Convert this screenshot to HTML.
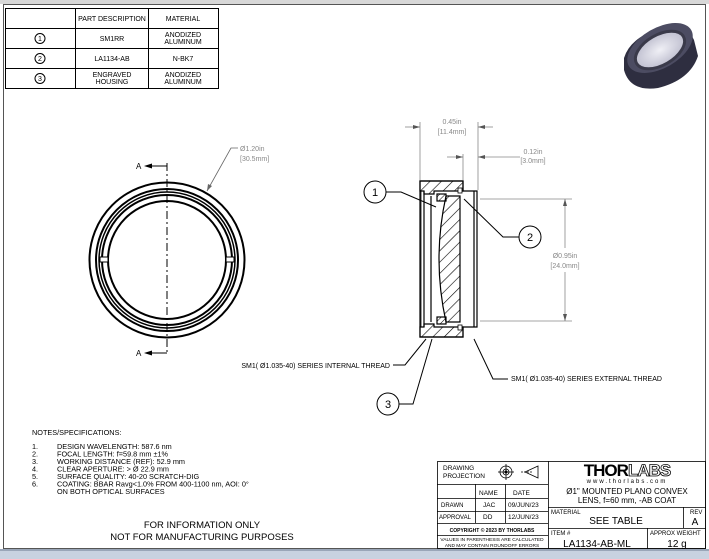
<!DOCTYPE html>
<html><head><meta charset="utf-8"><style>
html,body{margin:0;padding:0;background:#fff;}
svg{display:block;font-family:"Liberation Sans",sans-serif;}
</style></head><body>
<svg width="709" height="559" viewBox="0 0 709 559" xmlns="http://www.w3.org/2000/svg">
<defs>
<pattern id="h" width="8" height="8" patternUnits="userSpaceOnUse" patternTransform="rotate(45)"><line x1="0" y1="0" x2="0" y2="8" stroke="#000" stroke-width="1.2"/></pattern>
<pattern id="h2" width="4" height="4" patternUnits="userSpaceOnUse" patternTransform="rotate(45)"><line x1="0" y1="0" x2="0" y2="4" stroke="#000" stroke-width="1"/></pattern>
<radialGradient id="ph" cx="50%" cy="50%" r="50%"><stop offset="0" stop-color="#f0f0f6"/><stop offset="1" stop-color="#c0c0d0"/></radialGradient>
</defs>
<rect width="709" height="559" fill="#fff"/>
<rect x="0" y="0" width="709" height="4" fill="#d8d8d8"/>
<rect x="0" y="549" width="709" height="10" fill="#c8d2e0"/>
<rect x="0" y="549" width="709" height="2" fill="#9aa6b8"/>
<rect x="3.5" y="4.5" width="702" height="544" fill="none" stroke="#555" stroke-width="1"/>

<!-- parts table -->
<g stroke="#000" stroke-width="1" fill="none">
<rect x="5.5" y="8.5" width="213" height="80"/>
<line x1="75.5" y1="8" x2="75.5" y2="89"/><line x1="148.5" y1="8" x2="148.5" y2="89"/>
<line x1="5" y1="28.5" x2="219" y2="28.5"/><line x1="5" y1="48.5" x2="219" y2="48.5"/><line x1="5" y1="68.5" x2="219" y2="68.5"/>
<circle cx="40" cy="38.5" r="5"/><circle cx="40" cy="58.5" r="5"/><circle cx="40" cy="78.5" r="5"/>
</g>
<g font-size="7" fill="#000" text-anchor="middle">
<text x="112" y="21">PART DESCRIPTION</text><text x="183" y="21">MATERIAL</text>
<text x="40" y="41">1</text><text x="40" y="61">2</text><text x="40" y="81">3</text>
<text x="112" y="41">SM1RR</text><text x="183" y="37">ANODIZED</text><text x="183" y="44">ALUMINUM</text>
<text x="112" y="61">LA1134-AB</text><text x="183" y="61">N-BK7</text>
<text x="112" y="77">ENGRAVED</text><text x="112" y="84">HOUSING</text><text x="183" y="77">ANODIZED</text><text x="183" y="84">ALUMINUM</text>
</g>

<!-- photo -->
<g>
<path d="M624,70 Q630,92 658,88 Q690,80 698,56 L694,40 Q686,22 660,28 Q630,38 624,58 Z" fill="#2e2e40"/>
<ellipse cx="660" cy="48" rx="36" ry="20" transform="rotate(-30 660 48)" fill="#4c4c62"/>
<ellipse cx="660" cy="50" rx="27" ry="15" transform="rotate(-30 660 50)" fill="url(#ph)" stroke="#3a3a4a" stroke-width="3"/>
</g>

<!-- front view -->
<g fill="none" stroke="#000">
<circle cx="167" cy="260" r="77.5" stroke-width="2"/>
<circle cx="167" cy="260" r="71" stroke-width="2"/>
<circle cx="167" cy="260" r="68" stroke-width="1.5"/>
<circle cx="167" cy="260" r="65" stroke-width="2"/>
<circle cx="167" cy="260" r="59" stroke-width="2"/>
<rect x="100" y="257" width="8" height="5" fill="#fff" stroke-width="1"/>
<rect x="226" y="257" width="8" height="5" fill="#fff" stroke-width="1"/>
<line x1="167" y1="163" x2="167" y2="355" stroke-width="1" stroke-dasharray="8,3,2,3"/>
<polyline points="167,166 148,166" stroke-width="1"/>
<polyline points="167,353 148,353" stroke-width="1"/>
<polyline points="207,191 231,148 238,148" stroke="#666" stroke-width="0.8"/>
</g>
<polygon points="144,166 152,163.5 152,168.5" fill="#000"/>
<polygon points="144,353 152,350.5 152,355.5" fill="#000"/>
<polygon points="207,191 208,184 212,186" fill="#666"/>
<g font-size="8" fill="#000"><text x="136" y="169">A</text><text x="136" y="356">A</text></g>
<g font-size="7" fill="#888"><text x="240" y="151">Ø1.20in</text><text x="240" y="161">[30.5mm]</text></g>

<!-- section view -->
<g stroke="#000" stroke-width="1.2">
<path d="M420,181 H463 V191 H477 V327 H463 V337 H420 Z" fill="#fff"/>
<path d="M420,181 H463 V191 H434 V194 H424 V191 H420 Z" fill="url(#h)"/>
<path d="M420,337 H463 V327 H434 V324 H424 V327 H420 Z" fill="url(#h)"/>
<line x1="424" y1="191" x2="424" y2="327"/>
<line x1="421" y1="191" x2="421" y2="327" stroke-width="0.8"/>
<line x1="431" y1="196" x2="431" y2="322"/>
<path d="M446,196 H460 V322 H446 Q432,259 446,196 Z" fill="url(#h)"/>
<rect x="437" y="194" width="9" height="7" fill="url(#h2)"/>
<rect x="437" y="317" width="9" height="7" fill="url(#h2)"/>
<line x1="474" y1="191" x2="474" y2="327"/>
<rect x="458" y="188" width="4" height="5" fill="#fff" stroke-width="0.8"/>
<rect x="458" y="325" width="4" height="5" fill="#fff" stroke-width="0.8"/>
</g>
<!-- dims -->
<g stroke="#888" stroke-width="0.8" fill="none">
<line x1="420" y1="122" x2="420" y2="180"/><line x1="478" y1="122" x2="478" y2="190"/>
<line x1="405" y1="127" x2="420" y2="127"/><line x1="478" y1="127" x2="493" y2="127"/>
<line x1="463" y1="154" x2="463" y2="180"/>
<line x1="447" y1="157" x2="463" y2="157"/><line x1="478" y1="157" x2="520" y2="157"/>
<line x1="480" y1="199" x2="572" y2="199"/><line x1="480" y1="321" x2="572" y2="321"/>
<line x1="565" y1="199" x2="565" y2="248"/><line x1="565" y1="272" x2="565" y2="321"/>
</g>
<g fill="#555">
<polygon points="420,127 413,125 413,129"/><polygon points="478,127 485,125 485,129"/>
<polygon points="463,157 456,155 456,159"/><polygon points="478,157 485,155 485,159"/>
<polygon points="565,199 563,206 567,206"/><polygon points="565,321 563,314 567,314"/>
</g>
<g font-size="7" fill="#888" text-anchor="middle">
<text x="452" y="124">0.45in</text><text x="452" y="134">[11.4mm]</text>
<text x="533" y="154">0.12in</text><text x="533" y="163">[3.0mm]</text>
<text x="565" y="258">Ø0.95in</text><text x="565" y="268">[24.0mm]</text>
</g>
<!-- balloons -->
<g stroke="#000" stroke-width="1" fill="none">
<circle cx="375" cy="192" r="11" fill="#fff"/>
<polyline points="386,192 401,192 436,207"/>
<circle cx="530" cy="237" r="11" fill="#fff"/>
<polyline points="519,237 503,237 464,199"/>
<circle cx="388" cy="404" r="11" fill="#fff"/>
<polyline points="399,404 413,404 432,339"/>
<polyline points="393,365 405,365 426,339"/>
<polyline points="508,379 493,379 474,339"/>
</g>
<g font-size="11" fill="#000" text-anchor="middle"><text x="375" y="196">1</text><text x="530" y="241">2</text><text x="388" y="408">3</text></g>
<g font-size="7" fill="#000">
<text x="390" y="368" text-anchor="end">SM1( Ø1.035-40) SERIES INTERNAL THREAD</text>
<text x="511" y="381">SM1( Ø1.035-40) SERIES EXTERNAL THREAD</text>
</g>

<!-- notes -->
<g font-size="7.3" fill="#000">
<text x="32" y="435">NOTES/SPECIFICATIONS:</text>
<text x="32" y="449">1.</text><text x="57" y="449">DESIGN WAVELENGTH: 587.6 nm</text>
<text x="32" y="456.5">2.</text><text x="57" y="456.5">FOCAL LENGTH: f=59.8 mm ±1%</text>
<text x="32" y="464">3.</text><text x="57" y="464">WORKING DISTANCE (REF): 52.9 mm</text>
<text x="32" y="471.5">4.</text><text x="57" y="471.5">CLEAR APERTURE: &gt; Ø 22.9 mm</text>
<text x="32" y="479">5.</text><text x="57" y="479">SURFACE QUALITY: 40-20 SCRATCH-DIG</text>
<text x="32" y="486.5">6.</text><text x="57" y="486.5">COATING: BBAR Ravg&lt;1.0% FROM 400-1100 nm, AOI: 0°</text>
<text x="57" y="494">ON BOTH OPTICAL SURFACES</text>
</g>
<g font-size="9.5" fill="#000" text-anchor="middle">
<text x="202" y="528">FOR INFORMATION ONLY</text>
<text x="202" y="540">NOT FOR MANUFACTURING PURPOSES</text>
</g>

<!-- title block -->
<g stroke="#000" stroke-width="0.8" fill="none">
<rect x="437.5" y="461.5" width="268" height="87"/>
<line x1="548.5" y1="461" x2="548.5" y2="549"/>
<line x1="437" y1="484.5" x2="548" y2="484.5"/>
<line x1="437" y1="498.5" x2="548" y2="498.5"/>
<line x1="437" y1="511.5" x2="548" y2="511.5"/>
<line x1="437" y1="523.5" x2="548" y2="523.5"/>
<line x1="437" y1="535.5" x2="548" y2="535.5"/>
<line x1="475.5" y1="484" x2="475.5" y2="523"/>
<line x1="505.5" y1="484" x2="505.5" y2="523"/>
<line x1="548" y1="507.5" x2="706" y2="507.5"/>
<line x1="548" y1="528.5" x2="706" y2="528.5"/>
<line x1="683.5" y1="507" x2="683.5" y2="528"/>
<line x1="647.5" y1="528" x2="647.5" y2="549"/>
<circle cx="506" cy="472" r="6"/><circle cx="506" cy="472" r="3"/>
<line x1="498" y1="472" x2="514" y2="472"/><line x1="506" y1="464" x2="506" y2="480"/>
<polygon points="525,472 538,466 538,478"/>
<line x1="521" y1="472" x2="532" y2="472" stroke-dasharray="2,1"/>
</g>
<circle cx="506" cy="472" r="1.5" fill="#000"/>
<g font-size="6.5" fill="#000">
<text x="443" y="470">DRAWING</text><text x="443" y="478">PROJECTION</text>
<text x="479" y="495">NAME</text><text x="513" y="495">DATE</text>
<text x="441" y="507" font-size="6">DRAWN</text><text x="483" y="507">JAC</text><text x="508" y="507">09/JUN/23</text>
<text x="439" y="519" font-size="6">APPROVAL</text><text x="483" y="519">DD</text><text x="508" y="519">12/JUN/23</text>
<text x="492" y="532" font-size="5" text-anchor="middle" font-weight="bold">COPYRIGHT © 2023 BY THORLABS</text>
<text x="492" y="541" font-size="4.8" text-anchor="middle">VALUES IN PARENTHESIS ARE CALCULATED</text>
<text x="492" y="547" font-size="4.8" text-anchor="middle">AND MAY CONTAIN ROUNDOFF ERRORS</text>
<text x="551" y="514" font-size="6">MATERIAL</text>
<text x="690" y="514" font-size="6">REV</text>
<text x="551" y="535" font-size="6">ITEM #</text>
<text x="650" y="535" font-size="6">APPROX WEIGHT</text>
</g>
<g fill="#000" text-anchor="middle">
<text x="627" y="476" font-size="17" font-weight="bold" letter-spacing="-1">THOR<tspan fill="#fff" stroke="#000" stroke-width="0.8">LABS</tspan></text>
<text x="627" y="483" font-size="6" letter-spacing="2">www.thorlabs.com</text>
<text x="627" y="494" font-size="8">Ø1" MOUNTED PLANO CONVEX</text>
<text x="627" y="503" font-size="8">LENS, f=60 mm, -AB COAT</text>
<text x="616" y="524" font-size="10">SEE TABLE</text>
<text x="695" y="525" font-size="10">A</text>
<text x="597" y="547" font-size="10">LA1134-AB-ML</text>
<text x="677" y="547" font-size="10">12 g</text>
</g>
</svg>
</body></html>
